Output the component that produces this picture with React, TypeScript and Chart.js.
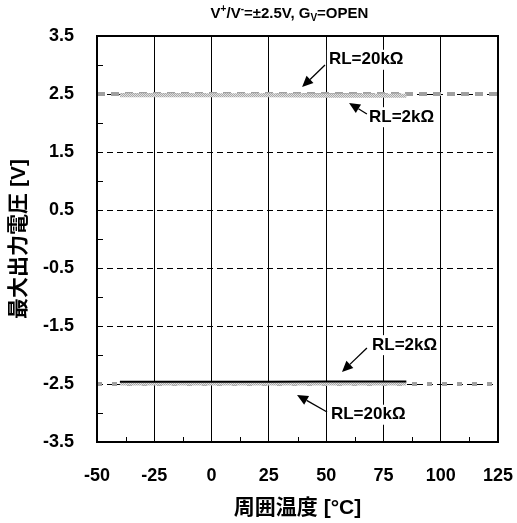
import React, { useEffect, useRef } from "react";
import { Chart, registerables } from "chart.js";

Chart.register(...registerables);

// ---- data ----
const temps = [-40, -25, 0, 25, 50, 75, 85];
const voh20k = [2.49, 2.49, 2.49, 2.49, 2.49, 2.49, 2.49];
const voh2k = [2.48, 2.48, 2.48, 2.48, 2.47, 2.47, 2.47];
const vol2k = [-2.46, -2.46, -2.46, -2.46, -2.455, -2.455, -2.455];
const vol20k = [-2.49, -2.49, -2.49, -2.49, -2.49, -2.49, -2.49];
const refRange = [-50, 125];
const refHigh = [2.5, 2.5];
const refLow = [-2.5, -2.5];
const xTicks = [-50, -25, 0, 25, 50, 75, 100, 125];
const yTicks = [3.5, 2.5, 1.5, 0.5, -0.5, -1.5, -2.5, -3.5];
const xMinor = [-37.5, -12.5, 12.5, 37.5, 62.5, 87.5, 112.5];
const yMinor = [3, 2, 1, 0, -1, -2, -3];

// annotations: label text, label anchor (left, middle), arrow tail and tip in data units
const annotations = [
  { text: "RL=20kΩ", tx: 51.2, ty: 3.09, ax: 49.5, ay: 3.0, bx: 39.5, by: 2.62 },
  { text: "RL=2kΩ", tx: 68.7, ty: 2.1, ax: 67.8, ay: 2.155, bx: 60.0, by: 2.345 },
  { text: "RL=2kΩ", tx: 70.0, ty: -1.83, ax: 67.8, ay: -1.879, bx: 56.9, by: -2.293 },
  { text: "RL=20kΩ", tx: 52.1, ty: -3.03, ax: 50.4, ay: -2.983, bx: 37.3, by: -2.69 },
];

const FONT = '"Liberation Sans", Arial, "Noto Sans CJK JP", sans-serif';

const pts = (xs: number[], ys: number[]) => xs.map((x, i) => ({ x, y: ys[i] }));

function makeHatch(): any {
  const c = document.createElement("canvas");
  c.width = 2;
  c.height = 2;
  const g = c.getContext("2d")!;
  g.fillStyle = "#e2e2e2";
  g.fillRect(0, 0, 2, 2);
  g.fillStyle = "#a8a8a8";
  g.fillRect(0, 0, 1, 1);
  g.fillRect(1, 1, 1, 1);
  return g.createPattern(c, "repeat");
}

const decorPlugin = {
  id: "decor",
  afterDraw(chart: any) {
    const { ctx, chartArea: a, scales } = chart;
    const xs = scales.x;
    const ys = scales.y;
    ctx.save();
    // frame
    ctx.strokeStyle = "#000";
    ctx.lineWidth = 2;
    ctx.strokeRect(a.left, a.top, a.right - a.left, a.bottom - a.top);
    // minor ticks
    ctx.lineWidth = 1;
    ctx.beginPath();
    yMinor.forEach((v) => {
      const y = Math.round(ys.getPixelForValue(v)) + 0.5;
      ctx.moveTo(a.left, y);
      ctx.lineTo(a.left + 6, y);
    });
    xMinor.forEach((v) => {
      const x = Math.round(xs.getPixelForValue(v)) + 0.5;
      ctx.moveTo(x, a.bottom);
      ctx.lineTo(x, a.bottom - 5);
    });
    ctx.stroke();
    // annotations
    ctx.font = `bold 17px ${FONT}`;
    ctx.textBaseline = "middle";
    ctx.textAlign = "left";
    annotations.forEach((an) => {
      const tx = xs.getPixelForValue(an.tx);
      const ty = ys.getPixelForValue(an.ty);
      const w = ctx.measureText(an.text).width;
      ctx.fillStyle = "#fff";
      ctx.fillRect(tx - 2, ty - 10, w + 4, 20);
      ctx.fillStyle = "#000";
      ctx.fillText(an.text, tx, ty);
      const x1 = xs.getPixelForValue(an.ax);
      const y1 = ys.getPixelForValue(an.ay);
      const x2 = xs.getPixelForValue(an.bx);
      const y2 = ys.getPixelForValue(an.by);
      const ang = Math.atan2(y2 - y1, x2 - x1);
      const hl = 11;
      const hw = 5;
      const bx = x2 - hl * Math.cos(ang);
      const by = y2 - hl * Math.sin(ang);
      ctx.strokeStyle = "#000";
      ctx.lineWidth = 1.3;
      ctx.beginPath();
      ctx.moveTo(x1, y1);
      ctx.lineTo(bx, by);
      ctx.stroke();
      ctx.beginPath();
      ctx.moveTo(x2, y2);
      ctx.lineTo(bx + hw * Math.sin(ang), by - hw * Math.cos(ang));
      ctx.lineTo(bx - hw * Math.sin(ang), by + hw * Math.cos(ang));
      ctx.closePath();
      ctx.fill();
    });
    // title with super/subscripts
    const cx = (a.left + a.right) / 2 - 8;
    const parts: { t: string; s: number; dy: number }[] = [
      { t: "V", s: 15, dy: 0 },
      { t: "+", s: 10, dy: -6 },
      { t: "/V", s: 15, dy: 0 },
      { t: "-", s: 10, dy: -6 },
      { t: "=±2.5V, G", s: 15, dy: 0 },
      { t: "V", s: 10, dy: 3 },
      { t: "=OPEN", s: 15, dy: 0 },
    ];
    let total = 0;
    parts.forEach((p) => {
      ctx.font = `bold ${p.s}px ${FONT}`;
      total += ctx.measureText(p.t).width;
    });
    let x = cx - total / 2;
    const baseY = 18;
    ctx.textBaseline = "alphabetic";
    ctx.fillStyle = "#000";
    parts.forEach((p) => {
      ctx.font = `bold ${p.s}px ${FONT}`;
      ctx.fillText(p.t, x, baseY + p.dy);
      x += ctx.measureText(p.t).width;
    });
    ctx.restore();
  },
};

export default function App() {
  const ref = useRef<HTMLCanvasElement | null>(null);
  useEffect(() => {
    document.body.style.margin = "0";
    const canvas = ref.current;
    if (!canvas) return;
    const hatch = makeHatch();
    const chart = new Chart(canvas, {
      type: "line",
      data: {
        datasets: [
          {
            label: "VOL RL=2kΩ",
            data: pts(temps, vol2k),
            borderColor: "#000",
            borderWidth: 2,
            pointRadius: 0,
            tension: 0,
          },
          {
            label: "VOH RL=2kΩ",
            data: pts(temps, voh2k),
            borderColor: hatch,
            borderWidth: 4,
            pointRadius: 0,
          },
          {
            label: "VOL RL=20kΩ",
            data: pts(temps, vol20k),
            borderColor: hatch,
            borderWidth: 4,
            pointRadius: 0,
          },
          {
            label: "VOH RL=20kΩ",
            data: pts(temps, voh20k),
            borderColor: "#a6a6a6",
            borderWidth: 3,
            borderDash: [8, 5],
            pointRadius: 0,
          },
          {
            label: "ref+",
            data: pts(refRange, refHigh),
            borderColor: "#a0a0a0",
            borderWidth: 4,
            borderDash: [8, 6],
            pointRadius: 0,
          },
          {
            label: "ref-",
            data: pts(refRange, refLow),
            borderColor: "#a0a0a0",
            borderWidth: 4,
            borderDash: [5, 10],
            pointRadius: 0,
          },
        ],
      },
      options: {
        animation: false,
        responsive: false,
        parsing: false as any,
        layout: { padding: { left: 0, top: 36, right: 19, bottom: 0 } },
        plugins: {
          legend: { display: false },
          tooltip: { enabled: false },
          title: { display: false },
        },
        scales: {
          x: {
            type: "linear",
            min: -50,
            max: 125,
            afterFit: (s: any) => {
              s.height = 81;
              s.paddingLeft = 0;
              s.paddingRight = 0;
            },
            afterBuildTicks: (s: any) => {
              s.ticks = xTicks.map((v) => ({ value: v }));
            },
            ticks: {
              color: "#000",
              font: { family: FONT, size: 18, weight: "bold" },
              padding: 23,
              maxRotation: 0,
              autoSkip: false,
            },
            grid: { color: "#000", lineWidth: 1, drawTicks: false },
            border: { display: false },
            title: {
              display: true,
              text: "周囲温度 [°C]",
              color: "#000",
              font: { family: FONT, size: 21, weight: "bold" },
              padding: { top: 0, bottom: 2 },
            },
          },
          y: {
            type: "linear",
            min: -3.5,
            max: 3.5,
            afterFit: (s: any) => {
              s.width = 97;
              s.paddingTop = 0;
              s.paddingBottom = 0;
            },
            afterBuildTicks: (s: any) => {
              s.ticks = yTicks.map((v) => ({ value: v }));
            },
            ticks: {
              color: "#000",
              font: { family: FONT, size: 18, weight: "bold" },
              padding: 23,
              autoSkip: false,
              callback: (v: any) => Number(v).toFixed(1),
            },
            grid: { color: "#000", lineWidth: 1, drawTicks: false },
            border: { display: false, dash: [6, 4] },
            title: {
              display: true,
              text: "最大出力電圧 [V]",
              color: "#000",
              font: { family: FONT, size: 21, weight: "bold" },
              padding: { top: 7, bottom: 0 },
            },
          },
        },
      },
      plugins: [decorPlugin],
    } as any);
    return () => chart.destroy();
  }, []);
  return <canvas ref={ref} width={517} height={523} style={{ display: "block" }} />;
}
